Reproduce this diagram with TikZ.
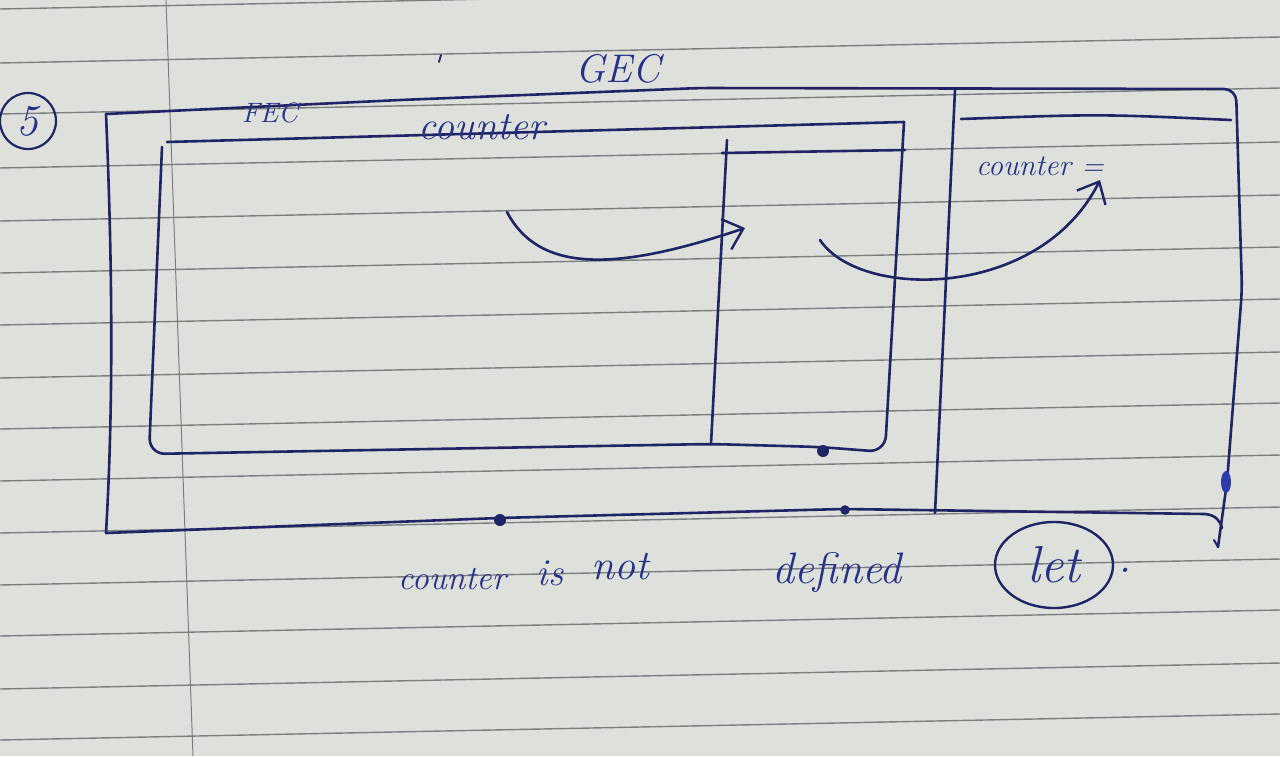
\documentclass[tikz,border=0pt]{standalone}
\usepackage{fontspec}
\usetikzlibrary{arrows.meta,shapes.geometric}
\definecolor{paper}{RGB}{222,225,219}
\definecolor{rulegray}{RGB}{122,126,128}
\definecolor{ink}{RGB}{30,36,100}
\definecolor{textink}{RGB}{38,48,135}
\definecolor{inkblot}{RGB}{45,60,170}
\newcommand{\hsz}[1]{\itshape\fontsize{#1}{#1}\selectfont}
\begin{document}
\begin{tikzpicture}[x=0.5pt,y=-0.5pt,
  pen/.style={draw=ink,line width=1.3pt,line cap=round,line join=round},
  ruling/.style={draw=rulegray,line width=0.7pt},
  hand/.style={text=textink,inner sep=0pt},
  inkarrow/.style={pen,-{Straight Barb[length=9pt,width=16pt,line width=1.2pt]}},
  blob/.style={fill=ink,draw=none}]
\useasboundingbox (0,0) rectangle (1280,756);
\fill[paper] (0,0) rectangle (1280,756);
% notebook ruling
\foreach \y in {9,63,114,168,221,273,325,378,429,481,533,585,636,689,740}
  \draw[ruling] (0,\y) -- (1280,{\y-26});
\draw[ruling,line width=0.5pt] (166,0) -- (193,756);

% circled number
\node[hand,circle,draw=ink,line width=1.1pt,minimum size=28pt,font=\hsz{22}] (five) at (28,121) {5};

% GEC outer box
\coordinate (gtl) at (106,114);
\coordinate (gbl) at (106,533);
\coordinate (gtr) at (1236,89);
\coordinate (gend) at (1218,547);
\draw[pen] (gtl) .. controls (114,300) and (112,430) .. (gbl);
\draw[pen,rounded corners=6pt] (gtl) -- (400,100) -- (700,88) -- (gtr) -- (1242,290) -- (1227,482) -- (gend);
\draw[pen] (gbl) -- (499,518) -- (843,509) -- (1205,514) .. controls (1215,515) and (1220,520) .. (1222,528);
\draw[pen,line width=1pt] (gend) -- (1214,540);

% right box (GEC memory)
\coordinate (rtl) at (955,90);
\coordinate (rbl) at (935,513);
\draw[pen] (rtl) -- (rbl);
\coordinate (rhl) at (961,119);
\coordinate (rhr) at (1231,120);
\draw[pen] (rhl) .. controls (1100,114) .. (rhr);

% FEC box
\coordinate (ftl) at (167,142);
\coordinate (ftr) at (904,122);
\coordinate (fbl) at (149,454);
\coordinate (flt) at (162,147);
\draw[pen] (ftl) -- (ftr);
\draw[pen,rounded corners=8pt] (ftr) -- (885,452) -- (820,447) -- (711,444) -- (fbl) -- (flt);

% inner block box
\coordinate (itl) at (727,140);
\coordinate (ibl) at (711,444);
\draw[pen] (itl) -- (ibl);
\coordinate (ihl) at (722,153);
\coordinate (ihr) at (905,150);
\draw[pen] (ihl) -- (ihr);

% ink blots
\fill[blob] (500,520) circle (3pt);
\fill[blob] (845,510) circle (2.4pt);
\fill[blob] (823,451) circle (3pt);
\fill[inkblot] (1226,482) ellipse (2.5pt and 5.5pt);
\draw[pen,line width=0.9pt] (441,55) -- (439,62);

% labels
\node[hand,font=\hsz{20}] (gec) at (618,69) {GEC};
\node[hand,font=\hsz{14}] (fec) at (270,113) {FEC};
\node[hand,font=\hsz{20}] (ctr1) at (482,127) {counter};
\node[hand,font=\hsz{15}] (ctr2) at (1040,166) {counter =};

% arrows
\coordinate (a1s) at (507,212);
\coordinate (a1e) at (745,228);
\draw[inkarrow] (a1s) .. controls (540,275) and (620,270) .. (a1e);
\coordinate (a2s) at (820,240);
\coordinate (a2e) at (1100,180);
\draw[inkarrow] (a2s) .. controls (860,300) and (1040,300) .. (a2e);

% bottom note
\node[hand,font=\hsz{17}] (w1) at (452,579) {counter};
\node[hand,font=\hsz{19}] (w2) at (550,573) {is};
\node[hand,font=\hsz{21}] (w3) at (620,567) {not};
\node[hand,font=\hsz{22}] (w4) at (837,572) {defined};
\node[hand,ellipse,draw=ink,line width=1.2pt,minimum width=59pt,minimum height=43pt,font=\hsz{26}] (let) at (1054,565) {let};
\node[hand,font=\hsz{22}] (dot) at (1125,570) {.};
\end{tikzpicture}
\end{document}
